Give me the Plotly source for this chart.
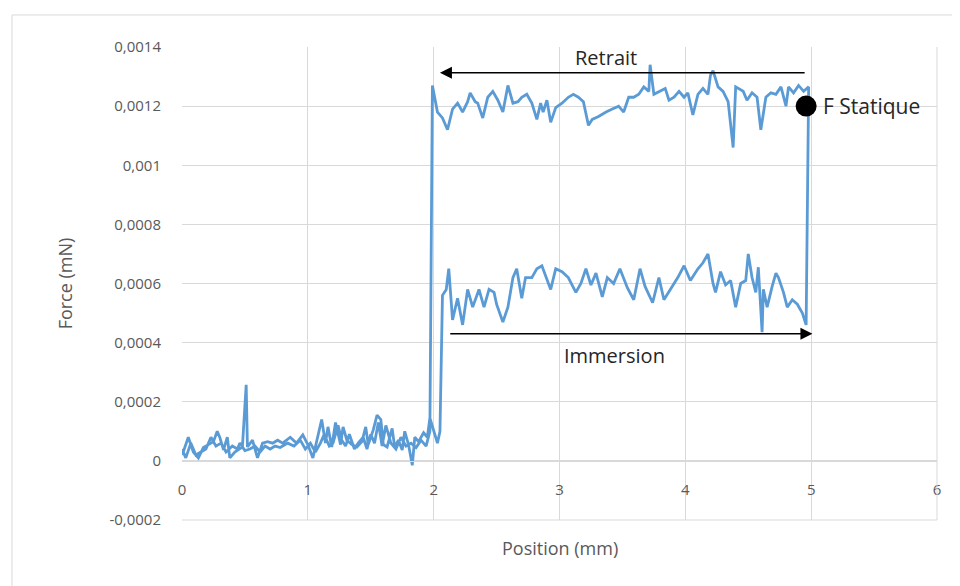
import plotly.graph_objects as go

# Force values are given in units of 1e-4 mN
SCALE = 1e-4

# --- Immersion sweep (0 -> 5 mm) ---
immersion_pos = [0.00, 0.01, 0.05, 0.09, 0.13, 0.17, 0.21, 0.25, 0.28, 0.30, 0.33, 0.36,
                 0.38, 0.42, 0.48, 0.51, 0.52, 0.56, 0.60, 0.64, 0.68, 0.72, 0.76, 0.80,
                 0.86, 0.91, 0.96, 1.00, 1.04, 1.08, 1.11, 1.14, 1.16, 1.19, 1.22, 1.26,
                 1.28, 1.31, 1.35, 1.39, 1.43, 1.46, 1.48, 1.52, 1.55, 1.58, 1.60, 1.63,
                 1.67, 1.69, 1.72, 1.75, 1.77, 1.80, 1.83, 1.85, 1.88, 1.92, 1.95, 1.97,
                 2.00, 2.03, 2.05, 2.07, 2.10, 2.12,
                 2.15, 2.19, 2.23, 2.27, 2.31, 2.36, 2.40, 2.44, 2.48, 2.50, 2.55, 2.59,
                 2.63, 2.66, 2.70, 2.73, 2.78, 2.82, 2.86, 2.93, 2.97, 3.02, 3.07, 3.13,
                 3.17, 3.21, 3.25, 3.29, 3.34, 3.38, 3.43, 3.48, 3.54, 3.59, 3.64, 3.68,
                 3.74, 3.79, 3.83, 3.88, 3.94, 3.99, 4.04, 4.10, 4.14, 4.18, 4.22, 4.24,
                 4.28, 4.32, 4.36, 4.40, 4.44, 4.48, 4.50, 4.53, 4.56, 4.58, 4.61, 4.62,
                 4.65, 4.69, 4.72, 4.74, 4.78, 4.81, 4.85, 4.89, 4.93, 4.96]
immersion_force = [0.2, 0.3, 0.8, 0.3, 0.1, 0.45, 0.55, 0.65, 1.0, 0.8, 0.37, 0.8,
                   0.1, 0.3, 0.47, 2.57, 0.47, 0.7, 0.1, 0.6, 0.65, 0.6, 0.7, 0.6,
                   0.8, 0.6, 0.88, 0.55, 0.1, 0.8, 1.4, 0.6, 1.15, 0.47, 1.3, 0.55,
                   1.15, 0.7, 0.55, 0.47, 0.65, 1.15, 0.55, 1.05, 1.55, 1.4, 0.55, 0.47,
                   1.1, 0.47, 0.7, 0.37, 1.0, 0.55, -0.15, 0.8, 0.65, 0.95, 0.8, 1.45,
                   1.05, 0.6, 1.0, 5.6, 5.8, 6.5,
                   4.77, 5.5, 4.6, 5.8, 5.2, 5.8, 5.2, 5.8, 5.7, 5.3, 4.7, 5.2,
                   6.2, 6.5, 5.5, 6.2, 6.2, 6.5, 6.6, 5.8, 6.5, 6.4, 6.2, 5.7,
                   6.0, 6.5, 5.95, 6.35, 5.55, 6.2, 6.0, 6.5, 5.85, 5.45, 6.5, 5.9,
                   5.35, 6.2, 5.45, 5.8, 6.2, 6.6, 6.1, 6.5, 6.7, 7.0, 6.0, 5.7,
                   6.4, 5.95, 6.1, 5.2, 6.0, 6.1, 7.0, 6.2, 5.7, 6.55, 4.35, 5.8,
                   5.2, 5.9, 6.35, 6.2, 5.7, 5.2, 5.45, 5.3, 5.0, 4.6]

# --- Retrait sweep (5 -> 0 mm) ---
retrait_pos = [4.98, 4.94, 4.90, 4.86, 4.82, 4.80, 4.76, 4.72, 4.68, 4.64, 4.60, 4.57,
               4.53, 4.49, 4.46, 4.40, 4.38, 4.34, 4.30, 4.26, 4.22, 4.20, 4.18, 4.14,
               4.10, 4.06, 4.02, 3.99, 3.95, 3.91, 3.87, 3.84, 3.79, 3.75, 3.72, 3.71,
               3.67, 3.63, 3.59, 3.55, 3.51, 3.47, 3.42, 3.37, 3.31, 3.26, 3.23, 3.19,
               3.15, 3.11, 3.07, 3.02, 2.97, 2.93, 2.90, 2.87, 2.85, 2.82, 2.78, 2.74,
               2.70, 2.67, 2.63, 2.59, 2.55, 2.51, 2.47, 2.43, 2.39, 2.35, 2.33, 2.29,
               2.27, 2.23, 2.19, 2.15, 2.11, 2.07, 2.03, 1.99, 1.97, 1.94, 1.90, 1.86,
               1.82, 1.78, 1.74, 1.70, 1.66, 1.62, 1.59, 1.56, 1.53, 1.50, 1.47, 1.44,
               1.40, 1.37, 1.33, 1.30, 1.27, 1.24, 1.20, 1.17, 1.13, 1.10, 1.06, 1.02,
               0.98, 0.94, 0.89, 0.84, 0.78, 0.74, 0.70, 0.66, 0.62, 0.58, 0.54, 0.50,
               0.46, 0.44, 0.40, 0.35, 0.31, 0.27, 0.23, 0.19, 0.15, 0.11, 0.07, 0.03,
               0.00]
retrait_force = [12.65, 12.5, 12.7, 12.45, 12.65, 12.0, 12.65, 12.4, 12.45, 12.3, 11.2, 12.3,
                 12.45, 12.2, 12.5, 12.65, 10.6, 12.15, 12.5, 12.65, 13.2, 13.05, 12.4, 12.6,
                 12.4, 11.7, 12.45, 12.3, 12.5, 12.3, 12.2, 12.6, 12.5, 12.4, 13.4, 12.5,
                 12.65, 12.4, 12.3, 12.3, 11.8, 12.0, 11.9, 11.8, 11.65, 11.55, 11.35, 12.15,
                 12.3, 12.4, 12.3, 12.1, 11.95, 11.45, 12.2, 11.8, 12.1, 11.55, 12.1, 12.4,
                 12.3, 12.15, 12.1, 12.7, 11.8, 12.2, 12.5, 12.3, 11.6, 12.1, 12.15, 12.45,
                 12.15, 11.8, 12.1, 11.9, 11.2, 11.6, 11.8, 12.7, 1.0, 0.5, 0.7, 0.45,
                 0.6, 0.5, 0.8, 0.4, 0.6, 1.2, 0.5, 1.3, 0.6, 0.9, 0.4, 0.8,
                 0.6, 0.4, 0.9, 0.5, 0.7, 1.2, 0.6, 0.5, 0.9, 0.6, 0.3, 0.6,
                 0.4, 0.7, 0.5, 0.6, 0.45, 0.5, 0.4, 0.5, 0.3, 0.5, 0.4, 0.35,
                 0.6, 0.4, 0.5, 0.3, 0.6, 0.5, 0.8, 0.4, 0.3, 0.2, 0.6, 0.1,
                 0.4]

# Annotated point
f_statique_pos = [4.96]
f_statique_force = [12.0]

y_tickvals = [-0.0002, 0, 0.0002, 0.0004, 0.0006, 0.0008, 0.001, 0.0012, 0.0014]
y_ticktext = ["-0,0002", "0", "0,0002", "0,0004", "0,0006", "0,0008", "0,001", "0,0012", "0,0014"]
x_tickvals = [0, 1, 2, 3, 4, 5, 6]

pos_all = immersion_pos + retrait_pos
force_all = [v * SCALE for v in immersion_force + retrait_force]

FONT = "Open Sans, Noto Sans, sans-serif"
GRAY = "#595959"
GRID = "#d9d9d9"
TEXT = "#262626"

fig = go.Figure()
fig.add_trace(go.Scatter(x=pos_all, y=force_all, mode="lines",
                         line=dict(color="#5b9bd5", width=2.8), showlegend=False,
                         hoverinfo="skip"))
fig.add_trace(go.Scatter(x=f_statique_pos, y=[v * SCALE for v in f_statique_force],
                         mode="markers", marker=dict(color="black", size=21),
                         showlegend=False))

y0_frac = (0 - (-0.0002)) / (0.0014 - (-0.0002))

# page body adds an 8px offset; the figure is sized to compensate
fig.update_layout(
    width=952, height=578,
    margin=dict(l=174, r=23, t=39, b=66),
    paper_bgcolor="white", plot_bgcolor="white",
    font=dict(family=FONT, color=GRAY, size=15),
    xaxis=dict(range=[0, 6], tickvals=x_tickvals, showgrid=True, gridcolor=GRID,
               gridwidth=1, zeroline=False, showline=True, linecolor=GRID,
               anchor="free", position=y0_frac, ticklabelstandoff=15,
               tickfont=dict(size=15, color=GRAY)),
    yaxis=dict(range=[-0.0002, 0.0014], tickvals=y_tickvals, ticktext=y_ticktext,
               showgrid=True, gridcolor=GRID, gridwidth=1, zeroline=False,
               showline=False, ticklabelstandoff=20,
               tickfont=dict(size=15, color=GRAY),
               title=dict(text="Force (mN)", font=dict(size=18, color=GRAY), standoff=32)),
)

# bottom and right frame lines of the plot area
fig.add_shape(type="line", xref="paper", yref="paper", x0=0, x1=1, y0=0, y1=0,
              line=dict(color=GRID, width=1))
fig.add_shape(type="line", xref="paper", yref="paper", x0=1, x1=1, y0=0, y1=1,
              line=dict(color=GRID, width=1))
# chart border
fig.add_shape(type="rect", xref="paper", yref="paper", x0=-0.2252, x1=1.2, y0=-0.3, y1=1.0677,
              line=dict(color=GRID, width=1), layer="below")

# x-axis title
fig.add_annotation(text="Position (mm)", xref="paper", yref="paper", x=0.5, y=-0.059,
                   showarrow=False, yanchor="middle", font=dict(size=18, color=GRAY))

# arrows
fig.add_annotation(x=2.05, y=0.001313, ax=4.96, ay=0.001313, xref="x", yref="y",
                   axref="x", ayref="y", text="", showarrow=True, arrowhead=2,
                   arrowsize=1.5, arrowwidth=1.6, arrowcolor="black")
fig.add_annotation(x=5.01, y=0.00043, ax=2.12, ay=0.00043, xref="x", yref="y",
                   axref="x", ayref="y", text="", showarrow=True, arrowhead=2,
                   arrowsize=1.5, arrowwidth=1.6, arrowcolor="black")
fig.add_annotation(text="Retrait", x=3.37, y=0.001363, xref="x", yref="y",
                   showarrow=False, font=dict(size=20, color=TEXT))
fig.add_annotation(text="Immersion", x=3.44, y=0.000355, xref="x", yref="y",
                   showarrow=False, font=dict(size=20, color=TEXT))
fig.add_annotation(text="F Statique", x=5.08, y=0.0012, xref="x", yref="y",
                   showarrow=False, xanchor="left", font=dict(size=21, color=TEXT))

fig.write_html("out.html")
